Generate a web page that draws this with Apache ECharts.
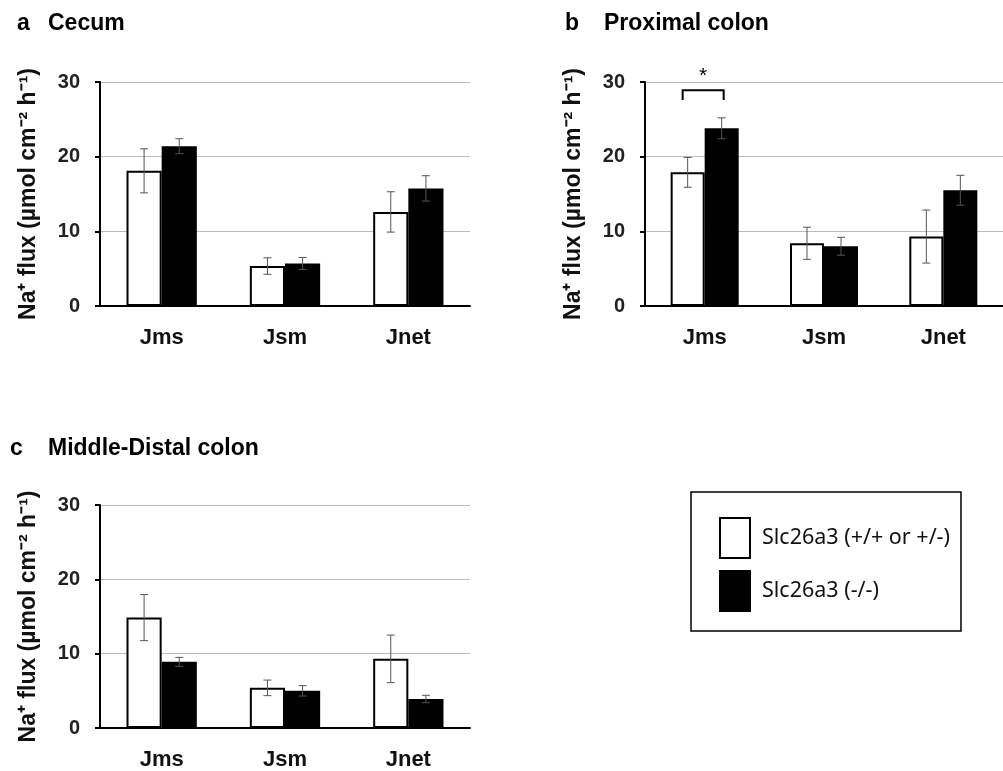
<!DOCTYPE html>
<html>
<head>
<meta charset="utf-8">
<script src="https://cdn.jsdelivr.net/npm/echarts@6/dist/echarts.min.js"></script>
<style>
html,body{margin:0;padding:0;background:#fff;}
#main{width:1003px;height:771px;}
</style>
</head>
<body>
<div id="main"></div>
<script>
// categories and tick labels
var cats = ['Jms', 'Jsm', 'Jnet'];
var yTicks = [0, 10, 20, 30];
var names = ['Slc26a3 (+/+ or +/-)', 'Slc26a3 (-/-)'];

// a Cecum
var cecumWT = [18.1, 5.35, 12.6];
var cecumWTErr = [2.95, 1.1, 2.7];
var cecumKO = [21.4, 5.7, 15.75];
var cecumKOErr = [1.0, 0.8, 1.7];
// b Proximal colon
var proxWT = [17.9, 8.4, 9.3];
var proxWTErr = [2.0, 2.15, 3.55];
var proxKO = [23.8, 8.0, 15.5];
var proxKOErr = [1.4, 1.2, 2.0];
// c Middle-Distal colon
var distWT = [14.85, 5.4, 9.3];
var distWTErr = [3.1, 1.05, 3.2];
var distKO = [8.9, 5.0, 3.9];
var distKOErr = [0.6, 0.7, 0.5];
// significance bracket in b (category, bracket top, leg bottom)
var sigBracket = [[0, 28.9, 27.6]];

var BAR_FRAC = 0.285;
var FONT = 'Liberation Sans, Arial, sans-serif';

var myChart = echarts.init(document.getElementById('main'));

var errData = function (mean, err) {
	return mean.map(function (m, i) { return [i, m + err[i], m - err[i]]; });
};

var errRender = function (sign) {
	return function (params, api) {
		var band = api.size([1, 0])[0];
		var dx = sign * band * BAR_FRAC / 2;
		var top = api.coord([api.value(0), api.value(1)]);
		var bot = api.coord([api.value(0), api.value(2)]);
		var cx = top[0] + dx, cap = 4;
		var st = { stroke: '#555', lineWidth: 1 };
		return {
			type: 'group',
			children: [
				{ type: 'line', shape: { x1: cx, y1: top[1], x2: cx, y2: bot[1] }, style: st },
				{ type: 'line', shape: { x1: cx - cap, y1: top[1], x2: cx + cap, y2: top[1] }, style: st },
				{ type: 'line', shape: { x1: cx - cap, y1: bot[1], x2: cx + cap, y2: bot[1] }, style: st }
			]
		};
	};
};

var grids = [
	{ left: 100, top: 82, width: 370, height: 224 },
	{ left: 645, top: 82, width: 370, height: 224 },
	{ left: 100, top: 505, width: 370, height: 224 }
];

var xAxes = [], yAxes = [];
for (var g = 0; g < 3; g++) {
	xAxes.push({
		type: 'category', gridIndex: g, data: cats,
		axisTick: { show: false },
		axisLine: { lineStyle: { color: '#000', width: 2 } },
		axisLabel: { margin: 21, color: '#111', fontFamily: FONT, fontWeight: 'bold', fontSize: 22 }
	});
	yAxes.push({
		type: 'value', gridIndex: g, min: yTicks[0], max: yTicks[yTicks.length - 1], interval: 10,
		name: 'Na\u207A flux (\u00B5mol cm\u207B\u00B2 h\u207B\u00B9)',
		nameLocation: 'middle', nameGap: 60,
		nameTextStyle: { color: '#111', fontFamily: FONT, fontWeight: 'bold', fontSize: 23 },
		axisLine: { show: true, lineStyle: { color: '#000', width: 2 } },
		axisTick: { show: true, length: 5, lineStyle: { color: '#000', width: 2 } },
		axisLabel: { margin: 20, color: '#222', fontFamily: FONT, fontWeight: 'bold', fontSize: 20 },
		splitLine: { show: true, lineStyle: { color: '#bbb', width: 1 } }
	});
}

var panels = [
	[cecumWT, cecumWTErr, cecumKO, cecumKOErr],
	[proxWT, proxWTErr, proxKO, proxKOErr],
	[distWT, distWTErr, distKO, distKOErr]
];

var series = [];
panels.forEach(function (p, g) {
	series.push({
		name: names[0], type: 'bar', xAxisIndex: g, yAxisIndex: g,
		barWidth: (BAR_FRAC * 100) + '%', barGap: '0%',
		itemStyle: { color: '#fff', borderColor: '#000', borderWidth: 2 },
		data: p[0]
	});
	series.push({
		name: names[1], type: 'bar', xAxisIndex: g, yAxisIndex: g,
		barWidth: (BAR_FRAC * 100) + '%', barGap: '0%',
		itemStyle: { color: '#000', borderColor: '#000', borderWidth: 2 },
		data: p[2]
	});
	series.push({
		type: 'custom', xAxisIndex: g, yAxisIndex: g, z: 3, silent: true,
		renderItem: errRender(-1), data: errData(p[0], p[1])
	});
	series.push({
		type: 'custom', xAxisIndex: g, yAxisIndex: g, z: 3, silent: true,
		renderItem: errRender(1), data: errData(p[2], p[3])
	});
});

// significance bracket + star on panel b
series.push({
	type: 'custom', xAxisIndex: 1, yAxisIndex: 1, z: 3, silent: true, clip: false,
	renderItem: function (params, api) {
		var band = api.size([1, 0])[0];
		var dx = band * BAR_FRAC / 2;
		var top = api.coord([api.value(0), api.value(1)]);
		var leg = api.coord([api.value(0), api.value(2)]);
		var x1 = top[0] - dx - 5, x2 = top[0] + dx + 2;
		return {
			type: 'group',
			children: [
				{ type: 'polyline', shape: { points: [[x1, leg[1]], [x1, top[1]], [x2, top[1]], [x2, leg[1]]] },
				  style: { stroke: '#000', lineWidth: 2, fill: null } },
				{ type: 'text', x: (x1 + x2) / 2, y: top[1] - 14,
				  style: { text: '*', fill: '#000', font: '21px ' + FONT, align: 'center', verticalAlign: 'middle' } }
			]
		};
	},
	data: sigBracket
});

var titleRich = function (w) {
	return {
		l: { width: w, fontSize: 23, fontWeight: 'bold', fontFamily: FONT, color: '#000' },
		t: { fontSize: 23, fontWeight: 'bold', fontFamily: FONT, color: '#000' }
	};
};

var option = {
	animation: false,
	backgroundColor: '#fff',
	title: [
		{ left: 17, top: 12, text: '{l|a}{t|Cecum}', textStyle: { rich: titleRich(31) }, padding: 0 },
		{ left: 565, top: 12, text: '{l|b}{t|Proximal colon}', textStyle: { rich: titleRich(39) }, padding: 0 },
		{ left: 10, top: 437, text: '{l|c}{t|Middle-Distal colon}', textStyle: { rich: titleRich(38) }, padding: 0 }
	],
	legend: {
		data: names, orient: 'vertical', left: 691, top: 492,
		padding: [25, 11, 19, 28], itemWidth: 30, itemHeight: 40, itemGap: 11,
		borderColor: '#000', borderWidth: 1.5, backgroundColor: '#fff',
		icon: 'rect',
		textStyle: { fontFamily: 'Noto Sans, sans-serif', fontSize: 21.5, color: '#111', padding: [0, 0, 0, 7] }
	},
	grid: grids,
	xAxis: xAxes,
	yAxis: yAxes,
	series: series
};

myChart.setOption(option);
</script>
</body>
</html>
